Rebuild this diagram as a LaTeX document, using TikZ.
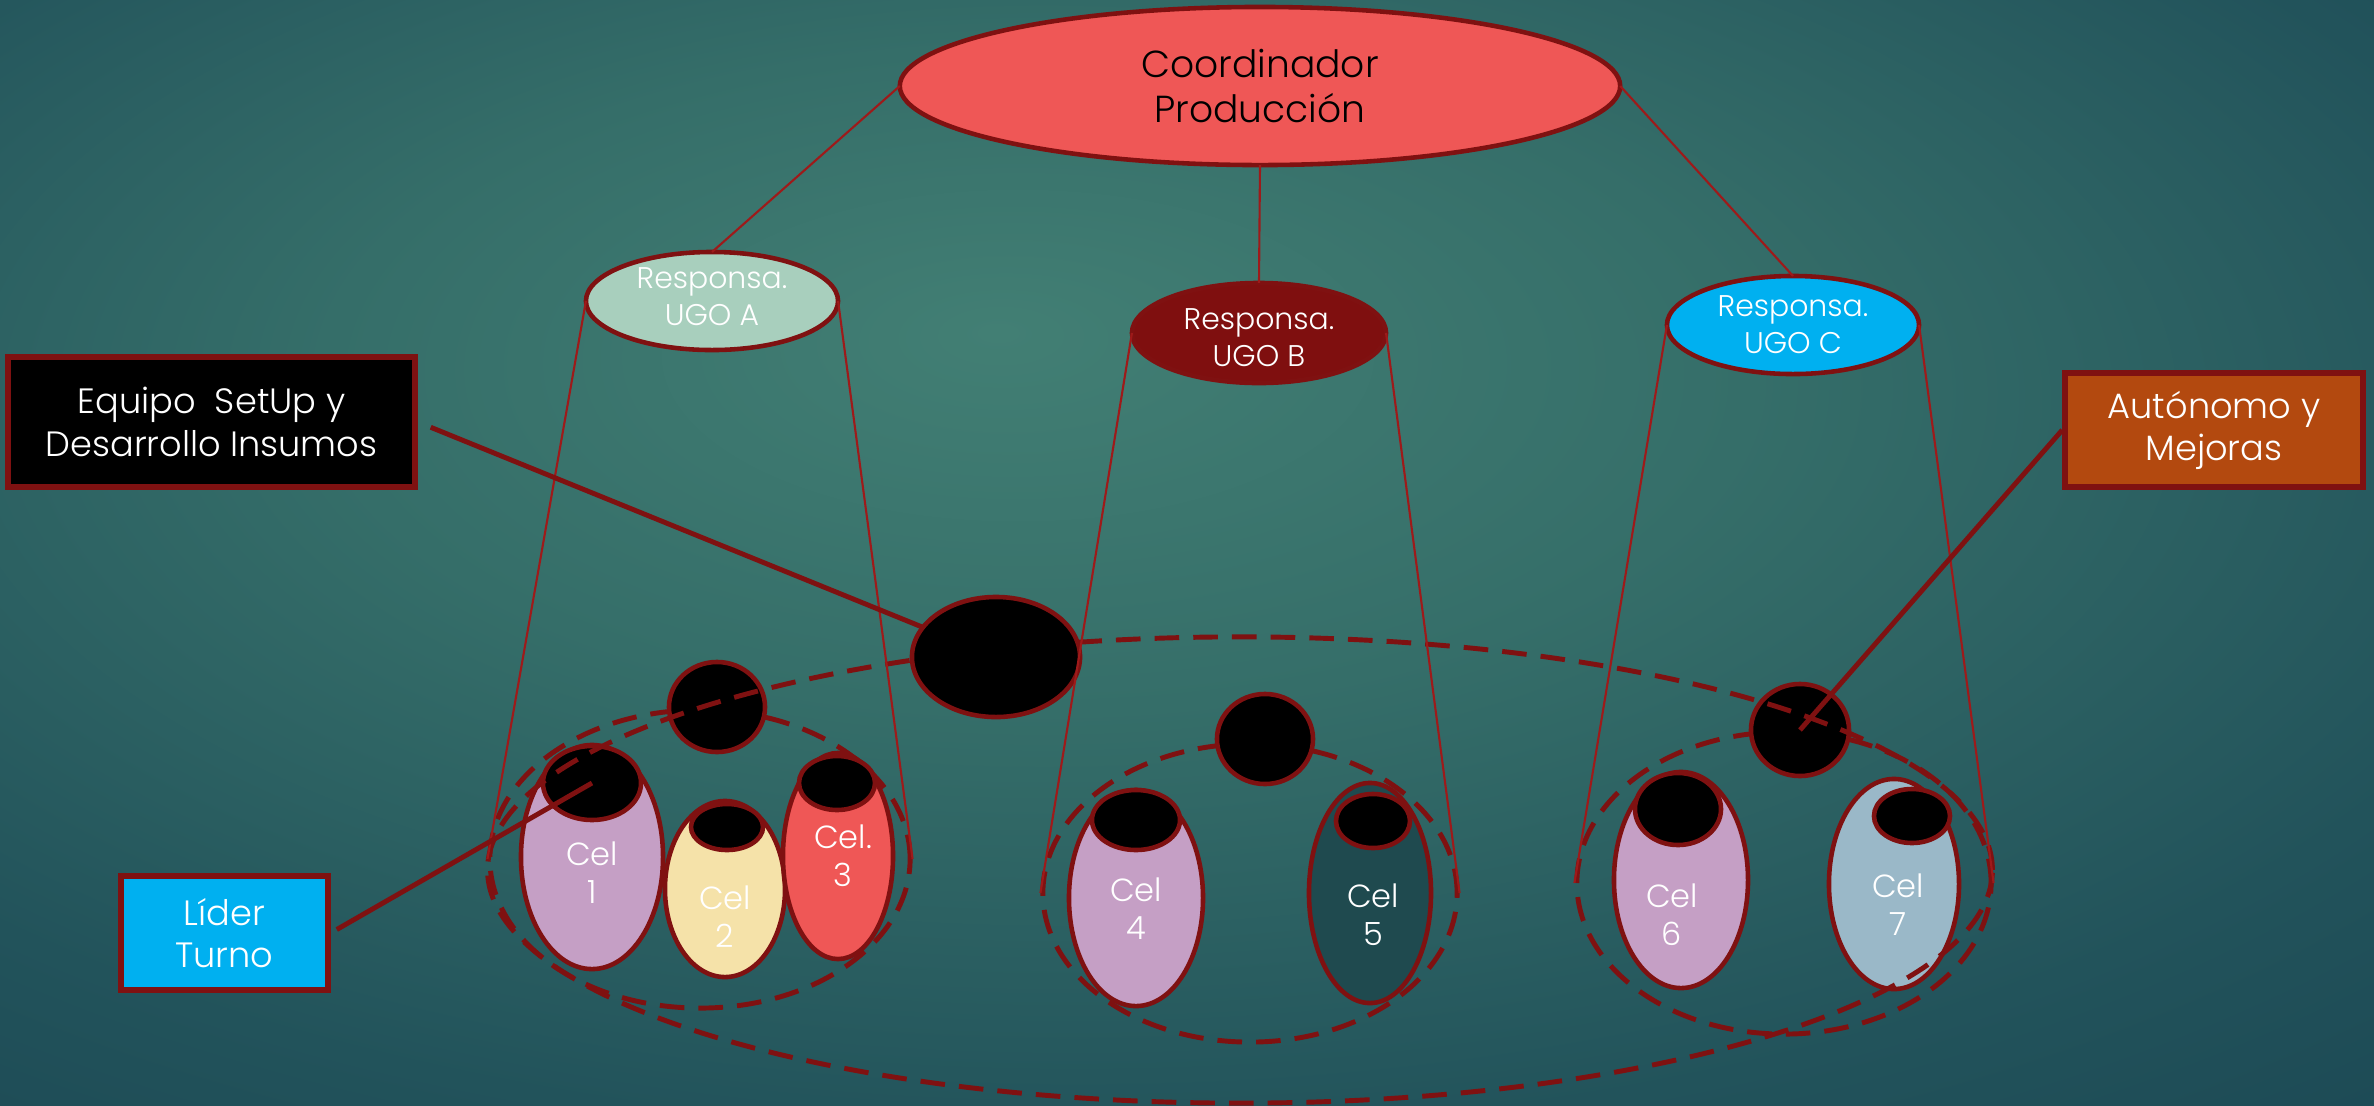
\documentclass[tikz,border=0pt]{standalone}
\usepackage{fontspec}
\setmainfont{Poppins}[UprightFont={* Light}]
\usetikzlibrary{shapes.geometric}
\definecolor{bdr}{HTML}{7F1111}
\definecolor{thinred}{HTML}{9E1A1A}
\definecolor{bgA}{HTML}{427F74}
\definecolor{bgB}{HTML}{356E69}
\definecolor{bgC}{HTML}{22535B}
\definecolor{bgD}{HTML}{184250}
\definecolor{bgE}{HTML}{113443}
\definecolor{coordfill}{HTML}{EF5756}
\definecolor{ugoAfill}{HTML}{A8CFBD}
\definecolor{ugoBfill}{HTML}{7F0F0F}
\definecolor{cyanfill}{HTML}{00B0F0}
\definecolor{autofill}{HTML}{B3490F}
\definecolor{lilac}{HTML}{C59FC5}
\definecolor{cream}{HTML}{F5E2A9}
\definecolor{salmon}{HTML}{EF5756}
\definecolor{darkteal}{HTML}{1F4A4F}
\definecolor{greyblue}{HTML}{9AB8C8}
\pgfdeclareradialshading{bgshade}{\pgfpoint{-4bp}{10bp}}{color(0bp)=(bgA); color(15bp)=(bgB); color(32bp)=(bgC); color(48bp)=(bgD); color(70bp)=(bgE)}
\newcommand\fntCoord{\fontsize{10.7pt}{12.8pt}\selectfont}
\newcommand\fntBoxT{\fontsize{10pt}{12pt}\selectfont}
\newcommand\fntUgo{\fontsize{8.5pt}{10.5pt}\selectfont}
\newcommand\fntCel{\fontsize{9.1pt}{10.8pt}\selectfont}
\tikzset{
  oval/.style={ellipse, draw=bdr, line width=1.3pt, inner sep=0pt, outer sep=0pt},
  hole/.style={ellipse, draw=bdr, fill=black, line width=1.3pt, inner sep=0pt, outer sep=0pt},
  dashell/.style={ellipse, draw=bdr, line width=1.4pt, dash pattern=on 7pt off 4pt, inner sep=0pt},
  thinline/.style={draw=thinred, line width=0.6pt},
  thickline/.style={draw=bdr, line width=1.4pt},
  boxnode/.style={rectangle, draw=bdr, line width=1.5pt, text=white, align=center, inner sep=0pt, font=\fntBoxT},
  ugolab/.style={text=white, align=center, font=\fntUgo},
  cellab/.style={text=white, align=center, font=\fntCel}
}
\begin{document}
\begin{tikzpicture}[x=0.01cm, y=-0.01cm]
\useasboundingbox (0,0) rectangle (2374,1105);
\path[shading=bgshade] (0,0) rectangle (2374,1105);

% cluster dashed ellipses
\node[dashell, minimum width=4.20cm, minimum height=2.98cm] (cluA) at (700,859) {};
\node[dashell, minimum width=4.14cm, minimum height=2.98cm] (cluB) at (1250,893) {};
\node[dashell, minimum width=4.14cm, minimum height=3.02cm] (cluC) at (1784,883) {};

% small black circles
\node[hole, minimum width=0.96cm, minimum height=0.90cm] (topA) at (717,707) {};
\node[hole, minimum width=0.96cm, minimum height=0.90cm] (topB) at (1265,739) {};
\node[hole, minimum width=0.98cm, minimum height=0.92cm] (topC) at (1800,730) {};

% cells
\node[oval, fill=lilac, minimum width=1.42cm, minimum height=2.24cm,
  label={[cellab, yshift=-0.16cm]center:Cel\\1}] (cel1) at (592,857) {};
\node[hole, minimum width=0.98cm, minimum height=0.74cm] (hole1) at (592,783) {};
\node[oval, fill=cream, minimum width=1.20cm, minimum height=1.76cm,
  label={[cellab, yshift=-0.28cm]center:Cel\\2}] (cel2) at (725,889) {};
\node[hole, minimum width=0.72cm, minimum height=0.46cm] (hole2) at (727,827) {};
\node[oval, fill=salmon, minimum width=1.10cm, minimum height=2.06cm,
  label={[cellab, xshift=0.05cm]center:Cel.\\3}] (cel3) at (838,856) {};
\node[hole, minimum width=0.76cm, minimum height=0.54cm] (hole3) at (837,783) {};
\node[oval, fill=lilac, minimum width=1.34cm, minimum height=2.16cm,
  label={[cellab, yshift=-0.11cm]center:Cel\\4}] (cel4) at (1136,898) {};
\node[hole, minimum width=0.88cm, minimum height=0.60cm] (hole4) at (1136,820) {};
\node[oval, fill=darkteal, minimum width=1.22cm, minimum height=2.20cm,
  label={[cellab, yshift=-0.22cm, xshift=0.03cm]center:Cel\\5}] (cel5) at (1370,893) {};
\node[hole, minimum width=0.74cm, minimum height=0.54cm] (hole5) at (1373,821) {};
\node[oval, fill=lilac, minimum width=1.34cm, minimum height=2.16cm,
  label={[cellab, yshift=-0.35cm, xshift=-0.09cm]center:Cel\\6}] (cel6) at (1681,880) {};
\node[hole, minimum width=0.86cm, minimum height=0.72cm] (hole6) at (1678,809) {};
\node[oval, fill=greyblue, minimum width=1.30cm, minimum height=2.10cm,
  label={[cellab, yshift=-0.21cm, xshift=0.04cm]center:Cel\\7}] (cel7) at (1894,884) {};
\node[hole, minimum width=0.76cm, minimum height=0.54cm] (hole7) at (1912,816) {};

% big dashed ellipse and big black ellipse
\node[dashell, minimum width=15.04cm, minimum height=4.66cm] (big) at (1240,870) {};
\node[hole, minimum width=1.68cm, minimum height=1.20cm] (bigblack) at (996,657) {};

% top hierarchy
\node[oval, fill=coordfill, minimum width=7.2cm, minimum height=1.58cm,
  label={[align=center, text=black, font=\fntCoord]center:Coordinador\\Producción}] (coord) at (1260,86) {};
\node[oval, fill=ugoAfill, minimum width=2.52cm, minimum height=0.98cm,
  label={[ugolab, yshift=0.04cm]center:Responsa.\\UGO A}] (ugoA) at (712,301) {};
\node[oval, fill=ugoBfill, minimum width=2.54cm, minimum height=1.0cm,
  label={[ugolab, yshift=-0.05cm]center:Responsa.\\UGO B}] (ugoB) at (1259,333) {};
\node[oval, fill=cyanfill, minimum width=2.52cm, minimum height=0.98cm,
  label={[ugolab]center:Responsa.\\UGO C}] (ugoC) at (1793,325) {};

% boxes
\node[boxnode, fill=black, minimum width=4.07cm, minimum height=1.30cm] (equipo) at (211.5,422) {Equipo\ \ SetUp y\\Desarrollo Insumos};
\node[boxnode, fill=autofill, minimum width=2.98cm, minimum height=1.14cm] (autonomo) at (2214,430) {Autónomo y\\Mejoras};
\node[boxnode, fill=cyanfill, minimum width=2.07cm, minimum height=1.14cm] (lider) at (224.5,933) {Líder\\Turno};

% thin connectors
\draw[thinline] (coord.west) -- (ugoA.north);
\draw[thinline] (coord.south) -- (ugoB.north);
\draw[thinline] (coord.east) -- (ugoC.north);
\draw[thinline] (ugoA.west) -- (cluA.west);
\draw[thinline] (ugoA.east) -- (cluA.east);
\draw[thinline] (ugoB.west) -- (cluB.west);
\draw[thinline] (ugoB.east) -- (cluB.east);
\draw[thinline] (ugoC.west) -- (cluC.west);
\draw[thinline] (ugoC.east) -- (cluC.east);

% thick connectors
\draw[thickline, shorten <=0.14cm] (equipo.east) -- (bigblack);
\draw[thickline] (autonomo.west) -- (topC.center);
\draw[thickline, shorten <=0.07cm] (lider.east) -- (hole1.center);
\end{tikzpicture}
\end{document}
